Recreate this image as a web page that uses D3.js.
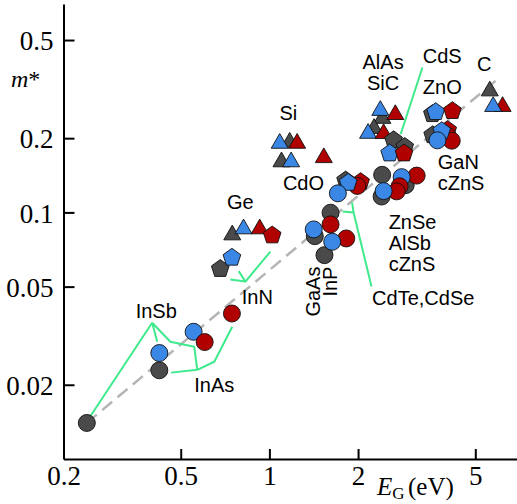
<!DOCTYPE html>
<html>
<head>
<meta charset="utf-8">
<script src="https://cdn.jsdelivr.net/npm/d3@7"></script>
<style>
  html, body { margin: 0; padding: 0; background: #fff; }
  svg { display: block; }
</style>
</head>
<body>
<svg id="chart" width="517" height="504"></svg>
<script>
// ---- data: band gap E_G (eV) vs. effective mass m*, listed in drawing order ----
const gapEV = [
  0.240, 0.423, 0.423, 0.553, 0.603, 0.746,
  0.681, 0.746, 0.748, 0.817, 0.927, 1.022,
  1.172, 1.084, 1.242, 1.099, 1.185, 1.530,
  2.040, 1.988, 1.814, 1.852, 1.708,
  1.613, 1.613, 1.426, 1.414, 1.824, 1.538, 1.634,
  2.414, 2.902, 3.162, 2.812, 2.768, 2.704, 2.404, 2.442,
  2.418, 2.380, 2.676, 2.266, 2.163, 2.442, 2.640, 2.880, 2.560, 2.864,
  3.576, 3.670, 4.180, 4.030, 4.030, 4.160, 3.584, 3.846, 3.720,
  5.600, 6.190, 5.750
];
const mass = [
  0.0140, 0.0229, 0.0269, 0.0328, 0.0298, 0.0389,
  0.0595, 0.0661, 0.0829, 0.0877, 0.0877, 0.0814,
  0.197, 0.195, 0.195, 0.164, 0.164, 0.1705,
  0.134, 0.128, 0.136, 0.133, 0.1195,
  0.0997, 0.0894, 0.0801, 0.0853, 0.0784, 0.0671, 0.0760,
  0.142, 0.129, 0.141, 0.139, 0.1276, 0.1217, 0.116, 0.122,
  0.246, 0.265, 0.255, 0.224, 0.214, 0.2135, 0.198, 0.186, 0.175, 0.175,
  0.2526, 0.2574, 0.260, 0.2175, 0.204, 0.1953, 0.2075, 0.2154, 0.196,
  0.318, 0.275, 0.275
];
// structure class: zb = zinc blende (circle), ind = indirect gap (triangle), wz = wurtzite (pentagon)
const kind = [
  "zb","zb","zb","zb","zb","zb",
  "wz","wz","ind","ind","ind","wz",
  "ind","ind","ind","ind","ind","ind",
  "wz","zb","wz","wz","zb",
  "zb","zb","zb","zb","zb","zb","zb",
  "zb","zb","zb","zb","zb","zb","zb","zb",
  "ind","ind","ind","ind","ind","ind","wz","wz","wz","wz",
  "wz","wz","wz","wz","zb","zb","wz","wz","zb",
  "ind","ind","ind"
];
// data set of each point
const dataset = [
  "A","A","B","B","C","C",
  "A","B","A","B","C","C",
  "A","B","C","A","B","C",
  "C","C","A","B","B",
  "A","C","A","B","C","A","B",
  "A","A","C","B","C","C","A","B",
  "A","B","C","A","B","C","A","A","B","C",
  "A","B","C","C","C","C","A","B","B",
  "A","C","B"
];

const xTicks = [0.2, 0.5, 1, 2, 5];
const xTickLabels = ["0.2", "0.5", "1", "2", "5"];
const yTicks = [0.02, 0.05, 0.1, 0.2, 0.5];
const yTickLabels = ["0.02", "0.05", "0.1", "0.2", "0.5"];

// m* ≈ 0.058 E_G guide line
const trend = [[0.24, 0.014], [5.95, 0.347]];

// leader lines from material names to their points, as (E_G, m*) polylines
const leaders = [
  [[0.400, 0.0357], [0.242, 0.0144]],
  [[0.400, 0.0357], [0.416, 0.0299]],
  [[0.400, 0.0357], [0.461, 0.0299], [0.556, 0.0285], [0.569, 0.0230]],
  [[0.569, 0.0230], [0.464, 0.0224]],
  [[0.569, 0.0230], [0.650, 0.0248], [0.748, 0.0344]],
  [[0.737, 0.0534], [0.829, 0.0524], [1.008, 0.0694]],
  [[0.787, 0.0578], [0.829, 0.0524]],
  [[1.772, 0.1009], [1.931, 0.1000], [2.222, 0.0500]],
  [[1.908, 0.1098], [1.931, 0.1000]],
  [[3.307, 0.387], [2.790, 0.2075]]
];

// material names and their anchor points in (E_G, m*)
const labelText = [
  ["InSb"], ["InAs"], ["Ge"], ["InN"], ["Si"], ["CdO"], ["GaAs"], ["InP"],
  ["ZnSe", "AlSb", "cZnS"], ["CdTe,CdSe"], ["AlAs", "SiC"], ["CdS"], ["ZnO"], ["C"], ["GaN", "cZnS"]
];
const labelE = [0.413, 0.650, 0.797, 0.910, 1.160, 1.305, 1.491, 1.696, 2.540, 2.232, 2.432, 3.316, 3.862, 5.366, 3.728];
const labelM = [0.0374, 0.0187, 0.1028, 0.0427, 0.2366, 0.1229, 0.0603, 0.0603, 0.0853, 0.0423, 0.381, 0.405, 0.302, 0.376, 0.1495];
const labelAnchor = ["middle","middle","middle","middle","middle","middle","end","end","start","start","middle","start","middle","middle","start"];
const labelRotate = [0, 0, 0, 0, 0, 0, -90, -90, 0, 0, 0, 0, 0, 0, 0];

// ---- drawing ----
const svg = d3.select("#chart");
const x = d3.scaleLog().domain([0.2, 6.9]).range([63.5, 516.5]);
const y = d3.scaleLog().domain([0.01, 0.7]).range([459, 4]);

const fillOf = { A: "#4a4a4a", B: "#3b87e6", C: "#b10000" };

// marker outlines, each centred on its bounding box
const circleR = 8.5;
const triSide = 17;
const pentR = 9.3;
const shapePath = {
  zb: d3.symbol(d3.symbolCircle, Math.PI * circleR * circleR)(),
  ind: (() => {
    const h = triSide * Math.sqrt(3) / 2;
    const p = d3.path();
    p.moveTo(0, -h / 2); p.lineTo(triSide / 2, h / 2); p.lineTo(-triSide / 2, h / 2); p.closePath();
    return p.toString();
  })(),
  wz: (() => {
    const shift = (pentR - pentR * Math.cos(Math.PI / 5)) / 2;
    const p = d3.path();
    for (let k = 0; k < 5; k++) {
      const a = -Math.PI / 2 + k * 2 * Math.PI / 5;
      const px = pentR * Math.cos(a), py = pentR * Math.sin(a) + shift;
      if (k === 0) p.moveTo(px, py); else p.lineTo(px, py);
    }
    p.closePath();
    return p.toString();
  })()
};

const line = d3.line().x(d => x(d[0])).y(d => y(d[1]));

svg.append("path")
  .datum(trend)
  .attr("d", line)
  .attr("fill", "none")
  .attr("stroke", "#b5b5b5")
  .attr("stroke-width", 2.5)
  .attr("stroke-dasharray", "13,7");

svg.append("g")
  .selectAll("path")
  .data(leaders)
  .join("path")
  .attr("d", line)
  .attr("fill", "none")
  .attr("stroke", "#3eea8b")
  .attr("stroke-width", 2)
  .attr("stroke-linejoin", "round");

svg.append("g")
  .selectAll("path")
  .data(d3.range(gapEV.length))
  .join("path")
  .attr("transform", i => `translate(${x(gapEV[i])},${y(mass[i])})`)
  .attr("d", i => shapePath[kind[i]])
  .attr("fill", i => fillOf[dataset[i]])
  .attr("stroke", "#111")
  .attr("stroke-width", 0.9);

// material names
const lab = svg.append("g")
  .attr("font-family", "'Liberation Sans', Arial, sans-serif")
  .attr("font-size", 20)
  .attr("fill", "#000")
  .selectAll("text")
  .data(d3.range(labelText.length))
  .join("text")
  .attr("text-anchor", i => labelAnchor[i])
  .attr("transform", i => `translate(${x(labelE[i])},${y(labelM[i])}) rotate(${labelRotate[i]})`);
lab.selectAll("tspan")
  .data(i => labelText[i])
  .join("tspan")
  .attr("x", 0)
  .attr("dy", (d, j) => j === 0 ? 0 : "1.05em")
  .text(d => d);

// axes
const yAxis = d3.axisLeft(y)
  .tickValues(yTicks)
  .tickFormat((d, i) => yTickLabels[i])
  .tickSizeInner(-11)
  .tickSizeOuter(0)
  .tickPadding(10);
const xAxis = d3.axisBottom(x)
  .tickValues(xTicks)
  .tickFormat((d, i) => xTickLabels[i])
  .tickSizeInner(-10)
  .tickSizeOuter(0)
  .tickPadding(8);

const gy = svg.append("g").attr("transform", "translate(63.5,0)").call(yAxis);
const gx = svg.append("g").attr("transform", "translate(0,459)").call(xAxis);

[gx, gy].forEach(g => {
  g.selectAll(".domain, .tick line").attr("stroke", "#000").attr("stroke-width", 2);
  g.selectAll(".tick text")
    .attr("font-family", "'Liberation Serif', 'Times New Roman', serif")
    .attr("font-size", 27)
    .attr("fill", "#000");
});
gy.selectAll(".tick text").attr("dy", "0.36em");
gx.selectAll(".tick text").attr("y", 26).attr("dy", null);

// axis titles
const serif = "'Liberation Serif', 'Times New Roman', serif";
const yTitle = svg.append("text")
  .attr("x", 11).attr("y", 87)
  .attr("font-family", serif).attr("font-size", 24);
yTitle.append("tspan").attr("font-style", "italic").text("m");
yTitle.append("tspan").text("*");

const xTitle = svg.append("text")
  .attr("x", 377).attr("y", 495)
  .attr("font-family", serif).attr("font-size", 25);
xTitle.append("tspan").attr("font-style", "italic").text("E");
xTitle.append("tspan").attr("font-size", 17).attr("dy", 4).text("G");
xTitle.append("tspan").attr("x", 408).attr("dy", -4).text("(eV)");
</script>
</body>
</html>
